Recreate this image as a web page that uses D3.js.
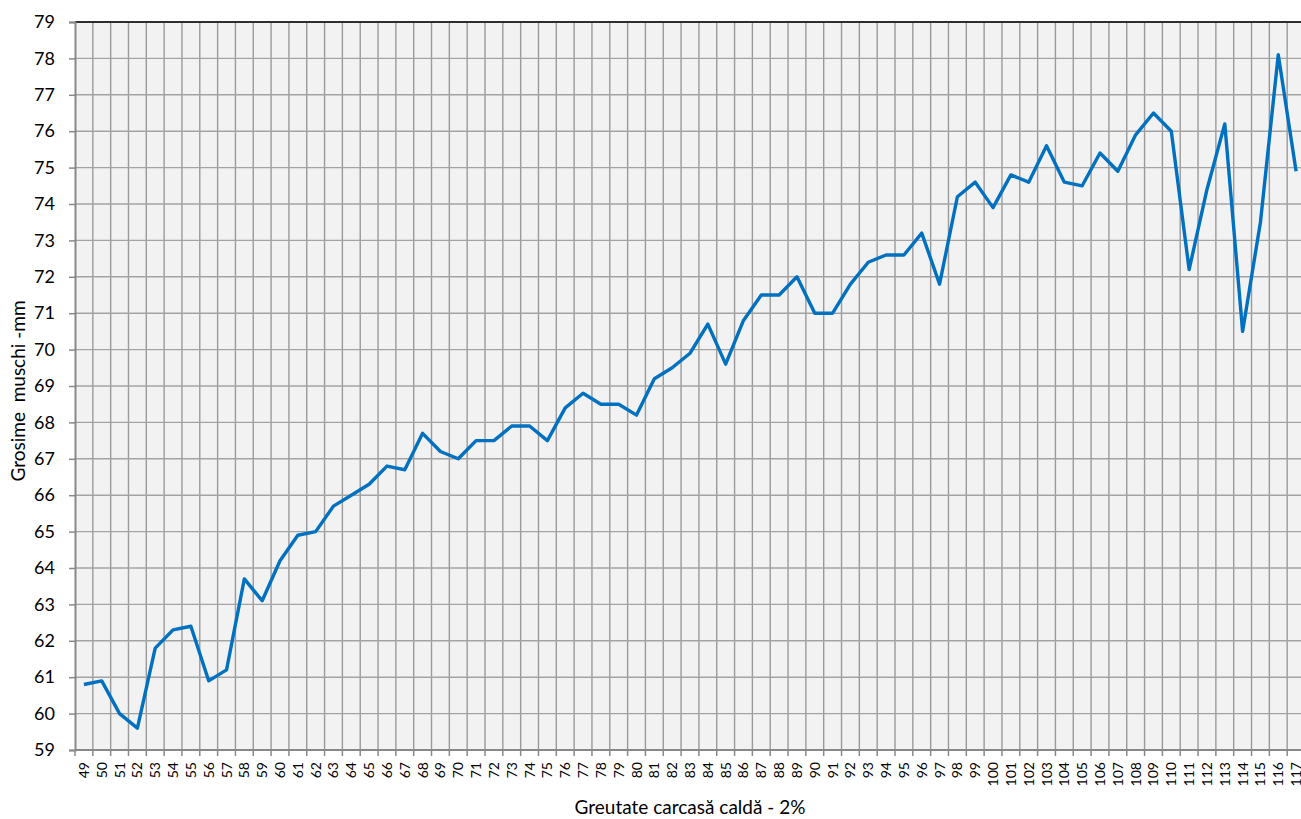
<!DOCTYPE html>
<html>
<head>
<meta charset="utf-8">
<script src="https://cdn.jsdelivr.net/npm/d3@7"></script>
<style>
  body { margin: 0; background: #fff; overflow: hidden; }
  svg { display: block; font-family: Lato, "Open Sans", sans-serif; }
</style>
</head>
<body>
<div id="chart"></div>
<script>
// carcass weight categories (x) and muscle thickness (y, mm)
const categories = d3.range(49, 118).map(String);
const muscle = [
  60.8, 60.9, 60.0, 59.6, 61.8, 62.3, 62.4, 60.9, 61.2, 63.7,
  63.1, 64.2, 64.9, 65.0, 65.7, 66.0, 66.3, 66.8, 66.7, 67.7,
  67.2, 67.0, 67.5, 67.5, 67.9, 67.9, 67.5, 68.4, 68.8, 68.5,
  68.5, 68.2, 69.2, 69.5, 69.9, 70.7, 69.6, 70.8, 71.5, 71.5,
  72.0, 71.0, 71.0, 71.8, 72.4, 72.6, 72.6, 73.2, 71.8, 74.2,
  74.6, 73.9, 74.8, 74.6, 75.6, 74.6, 74.5, 75.4, 74.9, 75.9,
  76.5, 76.0, 72.2, 74.4, 76.2, 70.5, 73.5, 78.1, 74.9
];
const yTicks = d3.range(59, 80);

const W = 1301, H = 819;
const margin = {top: 22, left: 75, bottom: 69};
const plotW = 1230, plotH = H - margin.top - margin.bottom;

const svg = d3.select("#chart").append("svg")
  .attr("width", W).attr("height", H);

const g = svg.append("g")
  .attr("transform", `translate(${margin.left},${margin.top})`);

const x = d3.scaleBand().domain(categories).range([0, plotW]).padding(0);
const y = d3.scaleLinear().domain([59, 79]).range([plotH, 0]);

// plot background
g.append("rect")
  .attr("width", plotW).attr("height", plotH)
  .attr("fill", "#f2f2f2");

// vertical grid at category boundaries
const bounds = categories.map(c => x(c)).concat([plotW]);
g.selectAll(".vgrid").data(bounds.slice(1)).enter().append("line")
  .attr("class", "vgrid")
  .attr("x1", d => d).attr("x2", d => d)
  .attr("y1", 0).attr("y2", plotH)
  .attr("stroke", "#9a9a9a").attr("stroke-width", 1.4);

// horizontal grid
g.selectAll(".hgrid").data(yTicks).enter().append("line")
  .attr("class", "hgrid")
  .attr("x1", 0).attr("x2", plotW)
  .attr("y1", d => y(d)).attr("y2", d => y(d))
  .attr("stroke", "#a3a3a3").attr("stroke-width", 1.4);

// top border
g.append("line")
  .attr("x1", 0).attr("x2", plotW).attr("y1", 0).attr("y2", 0)
  .attr("stroke", "#000").attr("stroke-width", 1.5);

// y axis
const yAxis = g.append("g")
  .call(d3.axisLeft(y).tickValues(yTicks).tickSize(6).tickPadding(14).tickFormat(d3.format("d")));
yAxis.select(".domain").attr("stroke", "#888").attr("stroke-width", 2);
yAxis.selectAll(".tick line").attr("stroke", "#888").attr("stroke-width", 1.5);
yAxis.selectAll("text").attr("font-size", 18).attr("fill", "#000")
  .attr("font-family", "Lato, sans-serif");

// x axis: labels centred on bands, ticks at boundaries
const xAxis = g.append("g")
  .attr("transform", `translate(0,${plotH})`)
  .call(d3.axisBottom(x).tickSize(0).tickPadding(0));
xAxis.select(".domain").remove();
xAxis.selectAll("text")
  .attr("font-size", 14).attr("fill", "#000")
  .attr("font-family", "Lato, sans-serif")
  .attr("text-anchor", "end")
  .attr("dy", null)
  .attr("y", 0)
  .attr("transform", "translate(5,12) rotate(-90)");

g.append("line")
  .attr("x1", 0).attr("x2", plotW).attr("y1", plotH).attr("y2", plotH)
  .attr("stroke", "#888").attr("stroke-width", 2);
g.selectAll(".xtick").data(bounds).enter().append("line")
  .attr("class", "xtick")
  .attr("x1", d => d).attr("x2", d => d)
  .attr("y1", plotH).attr("y2", plotH + 6)
  .attr("stroke", "#888").attr("stroke-width", 1.5);

// data line
const line = d3.line()
  .x((d, i) => x(categories[i]) + x.bandwidth() / 2)
  .y(d => y(d));
g.append("path")
  .datum(muscle)
  .attr("d", line)
  .attr("fill", "none")
  .attr("stroke", "#0070c0")
  .attr("stroke-width", 3.4)
  .attr("stroke-linejoin", "round");

// axis titles
svg.append("text")
  .attr("x", 690).attr("y", 814)
  .attr("text-anchor", "middle")
  .attr("font-size", 19)
  .text("Greutate carcasă caldă - 2%");

svg.append("text")
  .attr("transform", "translate(25,391) rotate(-90)")
  .attr("text-anchor", "middle")
  .attr("font-size", 19)
  .attr("xml:space", "preserve")
  .style("white-space", "pre")
  .text("Grosime  muschi -mm");
</script>
</body>
</html>
